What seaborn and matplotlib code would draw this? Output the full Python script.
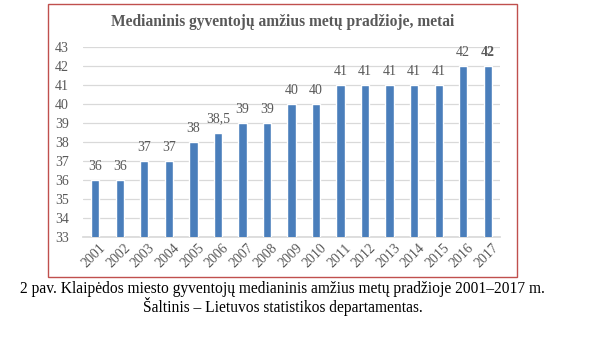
import matplotlib
matplotlib.use("Agg")
import matplotlib.pyplot as plt
import matplotlib.transforms as mtransforms
import seaborn as sns
import pandas as pd
from matplotlib.patches import Rectangle

years = ["2001", "2002", "2003", "2004", "2005", "2006", "2007", "2008", "2009",
         "2010", "2011", "2012", "2013", "2014", "2015", "2016", "2017"]
ages = [36, 36, 37, 37, 38, 38.5, 39, 39, 40, 40, 41, 41, 41, 41, 41, 42, 42]
yticks = [33, 34, 35, 36, 37, 38, 39, 40, 41, 42, 43]

title = "Medianinis gyventojų amžius metų pradžioje, metai"
caption1 = "2 pav. Klaipėdos miesto gyventojų medianinis amžius metų pradžioje 2001–2017 m."
caption2 = "Šaltinis – Lietuvos statistikos departamentas."

df = pd.DataFrame({"year": years, "age": ages})

sns.set_theme(style="white")
plt.rcParams["font.family"] = ["Liberation Serif", "DejaVu Serif"]

W, H = 606, 346
fig = plt.figure(figsize=(W / 100, H / 100), dpi=100)
fig.patch.set_facecolor("white")

ax = fig.add_axes([83 / W, (H - 237) / H, (500 - 83) / W, (237 - 47) / H])
sns.barplot(data=df, x="year", y="age", color="#4a7ebb", saturation=1,
            width=0.34, ax=ax, zorder=3)

ax.set_ylim(33, 43)
ax.set_xlim(-0.5, len(years) - 0.5)
ax.set_yticks(yticks)
ax.set_yticklabels([str(t) for t in yticks])
ax.yaxis.grid(True, color="#d9d9d9", linewidth=0.9, zorder=0)
ax.xaxis.grid(False)
for s in ax.spines.values():
    s.set_visible(False)
ax.spines["bottom"].set_visible(True)
ax.spines["bottom"].set_color("#d9d9d9")
ax.set_xlabel("")
ax.set_ylabel("")
ax.tick_params(axis="y", length=0, pad=10, labelsize=10, labelcolor="#595959")
ax.tick_params(axis="x", length=0, pad=3, labelsize=10, labelcolor="#595959")
shift = mtransforms.ScaledTranslation(4 / 100, 0, fig.dpi_scale_trans)
for lbl in ax.get_xticklabels():
    lbl.set_rotation(45)
    lbl.set_ha("right")
    lbl.set_rotation_mode("anchor")
    lbl.set_transform(lbl.get_transform() + shift)

labels = [(f"{v:.1f}".replace(".", ",") if v % 1 else f"{int(v)}") for v in ages]
texts = ax.bar_label(ax.containers[0], labels=labels, padding=5,
                     fontsize=10, color="#595959")
texts[-1].set_fontweight("bold")

fig.text(282.5 / W, 1 - 22 / H, title, ha="center", va="center",
         fontsize=11.2, fontweight="bold", color="#595959")

fig.add_artist(Rectangle((48 / W, 1 - 277 / H), (517 - 48) / W, (277 - 4) / H,
                         transform=fig.transFigure, fill=False,
                         edgecolor="#c0504d", linewidth=1.0))

fig.text(282.5 / W, 1 - 289 / H, caption1, ha="center", va="center",
         fontsize=11.2, color="black")
fig.text(283 / W, 1 - 306 / H, caption2, ha="center", va="center",
         fontsize=11.2, color="black")

fig.savefig("out.png", dpi=100, facecolor="white")
